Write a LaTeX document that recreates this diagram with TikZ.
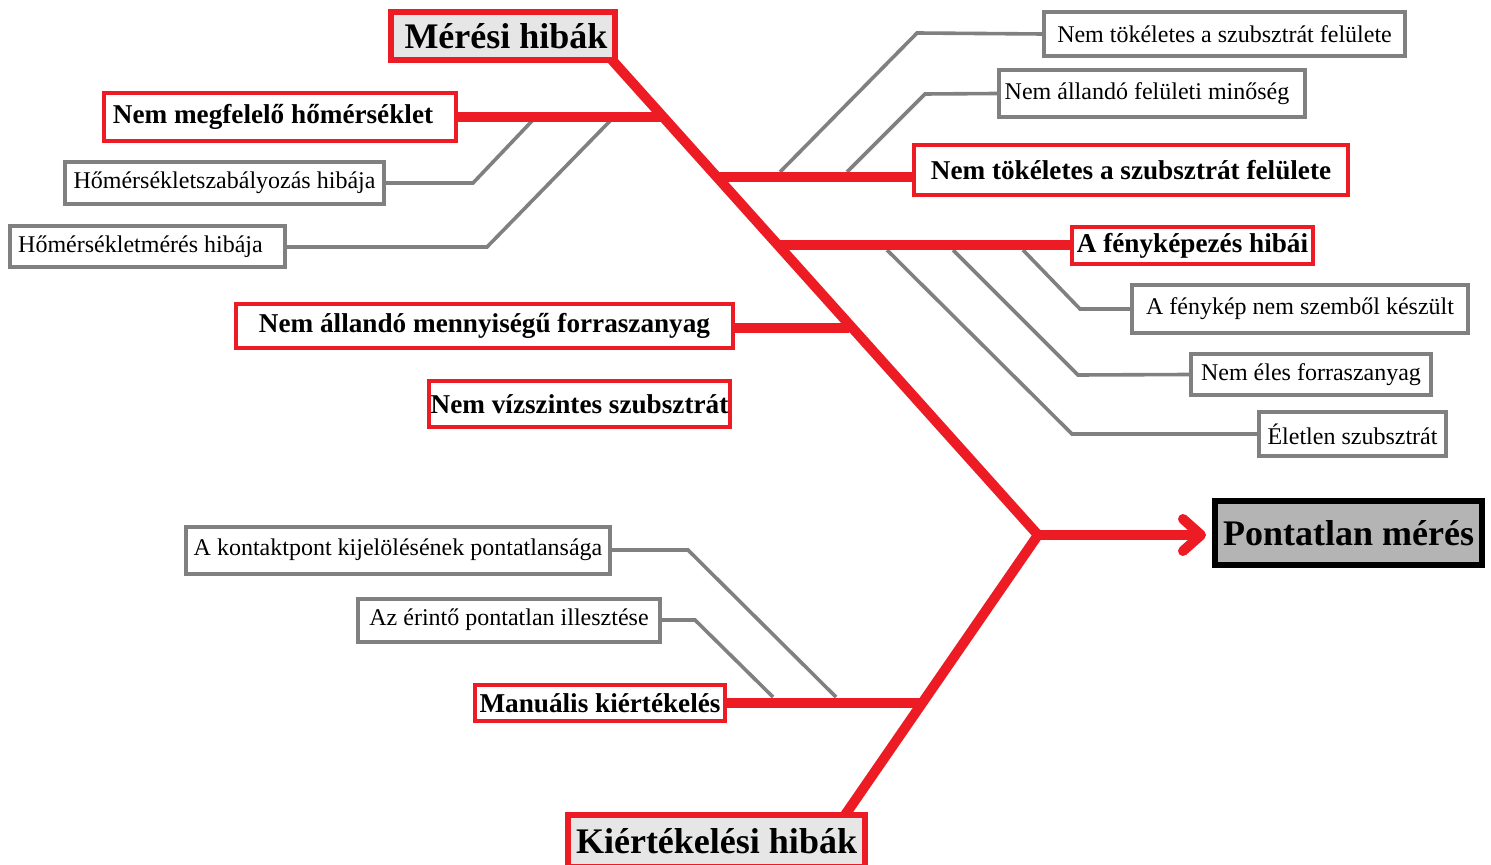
\documentclass[tikz,border=0pt]{standalone}
\usepackage{fontspec}
\setmainfont{Liberation Serif}
\usetikzlibrary{arrows.meta,backgrounds}
\definecolor{fbred}{HTML}{ED1C24}
\definecolor{fbgray}{HTML}{808080}
\definecolor{lgray}{HTML}{E6E6E6}
\definecolor{mgray}{HTML}{B4B4B4}
\tikzset{
  redbox/.style={draw=fbred, line width=2pt, fill=white, inner sep=0pt,
    font=\fontsize{13.6}{16}\selectfont\bfseries},
  mainbox/.style={draw=fbred, line width=3pt, fill=lgray, inner sep=0pt,
    font=\fontsize{18}{21}\selectfont\bfseries},
  graybox/.style={draw=fbgray, line width=2pt, fill=white, inner sep=0pt,
    font=\fontsize{12}{14}\selectfont},
  resultbox/.style={draw=black, line width=3pt, fill=mgray, inner sep=0pt,
    font=\fontsize{18}{21}\selectfont\bfseries},
  spine/.style={draw=fbred, line width=5pt},
  twig/.style={draw=fbgray, line width=1.8pt}
}
\begin{document}
\begin{tikzpicture}[x=0.5pt,y=-0.5pt]
\useasboundingbox (0,0) rectangle (1491,865);

% main boxes
\node[mainbox, minimum width=112pt, minimum height=24pt] (mh) at (503,36) {\kern3pt Mérési hibák};
\node[mainbox, minimum width=148.5pt, minimum height=26pt] (kh) at (716.5,841) {Kiértékelési hibák};
\node[resultbox, minimum width=133.5pt, minimum height=32pt] (pm) at (1348.5,533) {Pontatlan mérés};

% red sub boxes
\node[redbox, minimum width=176pt, minimum height=24pt] (nmh) at (280,117) {Nem megfelelő hőmérséklet\kern7pt};
\node[redbox, minimum width=217pt, minimum height=25pt] (ntsb) at (1131,170) {Nem tökéletes a szubsztrát felülete};
\node[redbox, minimum width=120.5pt, minimum height=18.5pt] (afh) at (1192.5,245.5) {A fényképezés hibái};
\node[redbox, minimum width=248.5pt, minimum height=22pt] (namf) at (484.5,326) {Nem állandó mennyiségű forraszanyag};
\node[redbox, minimum width=150.5pt, minimum height=23pt] (nvsz) at (579.5,404) {Nem vízszintes szubsztrát};
\node[redbox, minimum width=125pt, minimum height=18pt] (mk) at (600,703) {Manuális kiértékelés};

% gray boxes
\node[graybox, minimum width=180.5pt, minimum height=22pt] (ga) at (1224.5,34) {Nem tökéletes a szubsztrát felülete};
\node[graybox, minimum width=153pt, minimum height=23.5pt] (gb) at (1152,93.5) {Nem állandó felületi minőség\kern5pt};
\node[graybox, minimum width=159.5pt, minimum height=21pt] (gc) at (224.5,183) {Hőmérsékletszabályozás hibája};
\node[graybox, minimum width=137.5pt, minimum height=20.5pt] (gd) at (147.5,247) {Hőmérsékletmérés hibája\kern7pt};
\node[graybox, minimum width=168pt, minimum height=24pt] (ge) at (1300,309) {A fénykép nem szemből készült};
\node[graybox, minimum width=120pt, minimum height=20.5pt] (gf) at (1311,374.5) {Nem éles forraszanyag};
\node[graybox, minimum width=93.5pt, minimum height=22pt] (gg) at (1352.5,434) {Életlen szubsztrát};
\node[graybox, minimum width=212pt, minimum height=23.5pt] (gh) at (398,550) {A kontaktpont kijelölésének pontatlansága};
\node[graybox, minimum width=151pt, minimum height=21.5pt] (gi) at (509,620) {Az érintő pontatlan illesztése};

% spine points
\coordinate (top) at (612,60);
\coordinate (J) at (1038,535);
\coordinate (bot) at (845,815);
\coordinate (s1) at (661,117);
\coordinate (s2) at (715,177);
\coordinate (s3) at (776,245);
\coordinate (s4) at (849,328);
\coordinate (s5) at (921,703);

% twig points
\coordinate (c1) at (473,183);  \coordinate (c2) at (532,121);
\coordinate (d1) at (487,247);  \coordinate (d2) at (610,121);
\coordinate (a0) at (780,172);  \coordinate (a1) at (917,33);
\coordinate (b0) at (847,172);  \coordinate (b1) at (925,94);
\coordinate (e0) at (1023,250); \coordinate (e1) at (1080,309);
\coordinate (f0) at (953,250);  \coordinate (f1) at (1078,375);
\coordinate (g0) at (887,250);  \coordinate (g1) at (1072,434);
\coordinate (h1) at (688,550);  \coordinate (h2) at (836,697);
\coordinate (i1) at (695,620);  \coordinate (i2) at (773,697);

\begin{pgfonlayer}{background}
  % gray twigs
  \draw[twig] (gc.east) -- (c1) -- (c2);
  \draw[twig] (gd.east) -- (d1) -- (d2);
  \draw[twig] (a0) -- (a1) -- (ga.west);
  \draw[twig] (b0) -- (b1) -- (gb.west);
  \draw[twig] (e0) -- (e1) -- (ge.west);
  \draw[twig] (f0) -- (f1) -- (gf.west);
  \draw[twig] (g0) -- (g1) -- (gg.west);
  \draw[twig] (gh.east) -- (h1) -- (h2);
  \draw[twig] (gi.east) -- (i1) -- (i2);
  % red branches
  \draw[spine] (nmh.east) -- (s1);
  \draw[spine] (s2) -- (s2 -| ntsb.west);
  \draw[spine] (s3) -- (s3 -| afh.west);
  \draw[spine] (namf.east |- s4) -- (s4);
  \draw[spine] (mk.east) -- (s5);
  % spine
  \draw[spine, line join=miter] (top) -- (J) -- (bot);
  \draw[spine, shorten >=3pt, -{Straight Barb[length=9pt,width=16pt,round]}] (J) -- (J -| pm.west);
\end{pgfonlayer}
\end{tikzpicture}
\end{document}
